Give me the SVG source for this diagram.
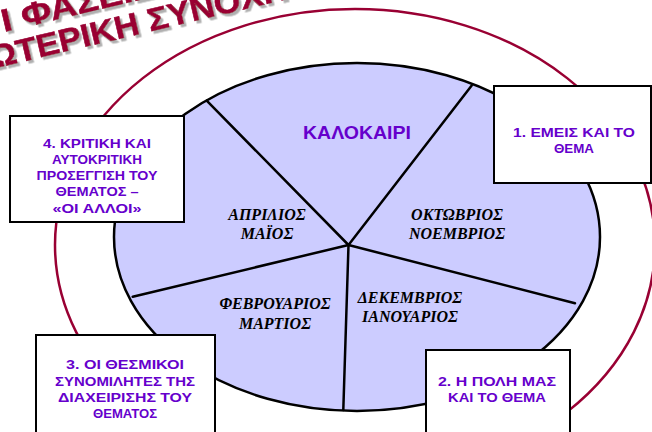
<svg xmlns="http://www.w3.org/2000/svg" width="652" height="432" viewBox="0 0 652 432">
<defs>
<filter id="shadow" x="-10%" y="-10%" width="130%" height="150%">
<feDropShadow dx="2.5" dy="2.5" stdDeviation="0.6" flood-color="#b0b0b0" flood-opacity="1"/>
</filter>
<style>
.title{font-family:"Liberation Sans",Arial,sans-serif;font-weight:bold;font-size:32px;fill:#990033;stroke:#990033;stroke-width:0.6}
.box{fill:#ffffff;stroke:#000000;stroke-width:2}
.lbl{font-family:"Liberation Sans",Arial,sans-serif;font-weight:bold;font-size:12.5px;fill:#6600cc;text-anchor:middle}
.month{font-family:"Liberation Serif","Times New Roman",serif;font-weight:bold;font-style:italic;font-size:16px;fill:#000000;text-anchor:middle}
.spoke{stroke:#000000;stroke-width:2.5;fill:none;stroke-linecap:round}
</style>
</defs>
<rect x="0" y="0" width="652" height="432" fill="#ffffff"/>

<g id="title" filter="url(#shadow)">
<text class="title" transform="translate(4,32) rotate(-13.3)" textLength="156" lengthAdjust="spacingAndGlyphs">Ι ΦΑΣΕΙΣ</text>
<text class="title" transform="translate(-8,69) rotate(-13.3)" textLength="305" lengthAdjust="spacingAndGlyphs">ΩΤΕΡΙΚΗ ΣΥΝΟΧΗ</text>
</g>

<g id="outer-ring">
<ellipse cx="355" cy="245" rx="300" ry="236" fill="none" stroke="#990033" stroke-width="2.5"/>
</g>

<g id="wheel">
<ellipse cx="357" cy="237" rx="243" ry="174" fill="#ccccff" stroke="#000000" stroke-width="2.5"/>
</g>

<g id="connectors">
<line class="spoke" x1="348.5" y1="245" x2="206.7" y2="100.7"/>
<line class="spoke" x1="348.5" y1="245" x2="471.7" y2="85.5"/>
<line class="spoke" x1="348.5" y1="245" x2="575" y2="303.3"/>
<line class="spoke" x1="348.5" y1="245" x2="343.3" y2="410"/>
<line class="spoke" x1="348.5" y1="245" x2="132.7" y2="296.7"/>
</g>

<g id="summer">
<text x="357" y="139" font-family="Liberation Sans,Arial,sans-serif" font-weight="bold" font-size="17.5" fill="#6600cc" text-anchor="middle" textLength="108" lengthAdjust="spacingAndGlyphs">ΚΑΛΟΚΑΙΡΙ</text>
</g>
<g id="apr-may">
<text class="month" x="267" y="220">ΑΠΡΙΛΙΟΣ</text>
<text class="month" x="267" y="239">ΜΑΪΟΣ</text>
</g>
<g id="oct-nov">
<text class="month" x="457" y="220">ΟΚΤΩΒΡΙΟΣ</text>
<text class="month" x="457" y="239">ΝΟΕΜΒΡΙΟΣ</text>
</g>
<g id="feb-mar">
<text class="month" x="275" y="309">ΦΕΒΡΟΥΑΡΙΟΣ</text>
<text class="month" x="275" y="329">ΜΑΡΤΙΟΣ</text>
</g>
<g id="dec-jan">
<text class="month" x="410" y="303">ΔΕΚΕΜΒΡΙΟΣ</text>
<text class="month" x="410" y="322">ΙΑΝΟΥΑΡΙΟΣ</text>
</g>

<g id="box4">
<rect class="box" x="10" y="116" width="174" height="106"/>
<text class="lbl" x="97" y="148" textLength="108" lengthAdjust="spacingAndGlyphs">4. ΚΡΙΤΙΚΗ ΚΑΙ</text>
<text class="lbl" x="97" y="164" textLength="90" lengthAdjust="spacingAndGlyphs">ΑΥΤΟΚΡΙΤΙΚΗ</text>
<text class="lbl" x="97" y="180" textLength="121" lengthAdjust="spacingAndGlyphs">ΠΡΟΣΕΓΓΙΣΗ ΤΟΥ</text>
<text class="lbl" x="97" y="196" textLength="83" lengthAdjust="spacingAndGlyphs">ΘΕΜΑΤΟΣ –</text>
<text class="lbl" x="97" y="213" textLength="89" lengthAdjust="spacingAndGlyphs">«ΟΙ ΑΛΛΟΙ»</text>
</g>

<g id="box1">
<rect class="box" x="494" y="86" width="157" height="97"/>
<text class="lbl" x="574" y="137" textLength="122" lengthAdjust="spacingAndGlyphs">1. ΕΜΕΙΣ ΚΑΙ ΤΟ</text>
<text class="lbl" x="574" y="153" textLength="40" lengthAdjust="spacingAndGlyphs">ΘΕΜΑ</text>
</g>

<g id="box3">
<rect class="box" x="36" y="335" width="179" height="110"/>
<text class="lbl" x="125" y="369" textLength="118" lengthAdjust="spacingAndGlyphs">3. ΟΙ ΘΕΣΜΙΚΟΙ</text>
<text class="lbl" x="125" y="386" textLength="140" lengthAdjust="spacingAndGlyphs">ΣΥΝΟΜΙΛΗΤΕΣ ΤΗΣ</text>
<text class="lbl" x="125" y="402" textLength="134" lengthAdjust="spacingAndGlyphs">ΔΙΑΧΕΙΡΙΣΗΣ ΤΟΥ</text>
<text class="lbl" x="125" y="418" textLength="64" lengthAdjust="spacingAndGlyphs">ΘΕΜΑΤΟΣ</text>
</g>

<g id="box2">
<rect class="box" x="426" y="350" width="144" height="95"/>
<text class="lbl" x="497" y="386" textLength="118" lengthAdjust="spacingAndGlyphs">2. Η  ΠΟΛΗ ΜΑΣ</text>
<text class="lbl" x="497" y="402" textLength="98" lengthAdjust="spacingAndGlyphs">ΚΑΙ ΤΟ ΘΕΜΑ</text>
</g>
</svg>
